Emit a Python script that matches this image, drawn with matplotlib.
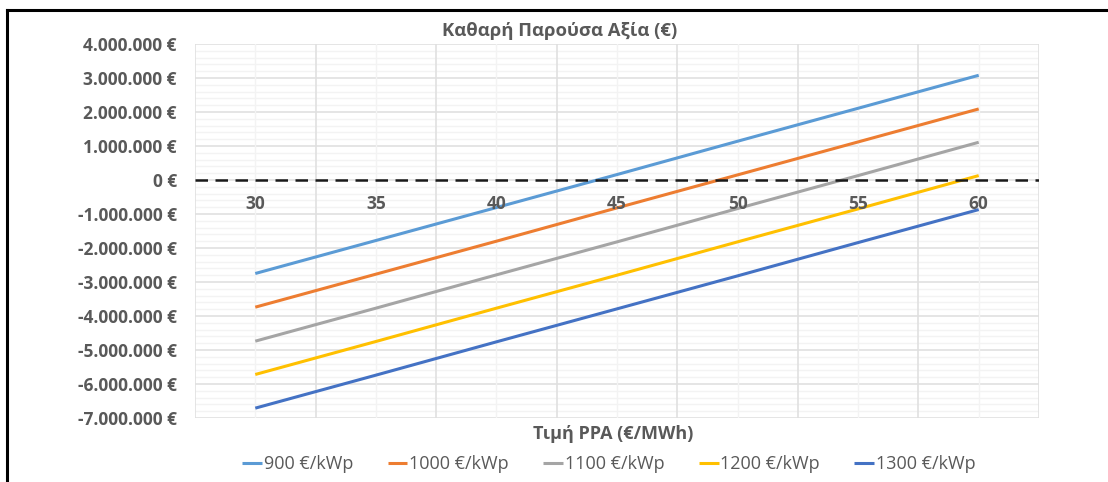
import matplotlib
matplotlib.use("Agg")
import matplotlib.pyplot as plt
from matplotlib.ticker import FuncFormatter, MultipleLocator
from matplotlib.lines import Line2D

plt.rcParams['font.family'] = ['Open Sans', 'DejaVu Sans']

# PPA price (€/MWh)
ppa_price = [30, 35, 40, 45, 50, 55, 60]

# NPV (€) per capex scenario
npv_900 = [-2750000, -1780000, -810000, 160000, 1140000, 2110000, 3080000]
npv_1000 = [-3740000, -2770000, -1800000, -820000, 150000, 1120000, 2090000]
npv_1100 = [-4740000, -3770000, -2790000, -1820000, -840000, 130000, 1110000]
npv_1200 = [-5720000, -4750000, -3770000, -2800000, -1820000, -850000, 130000]
npv_1300 = [-6710000, -5740000, -4760000, -3790000, -2820000, -1840000, -870000]

labels = ['900 €/kWp', '1000 €/kWp', '1100 €/kWp', '1200 €/kWp', '1300 €/kWp']
colors = ['#5B9BD5', '#ED7D31', '#A5A5A5', '#FFC000', '#4472C4']
series = [npv_900, npv_1000, npv_1100, npv_1200, npv_1300]

txt = '#595959'

fig = plt.figure(figsize=(11.08, 4.82), dpi=100)
ax = fig.add_axes([195 / 1108, 1 - 418 / 482, (1039 - 195) / 1108, (418 - 44) / 482])

# gridlines (excel style)
ax.set_xlim(27.5, 62.5)
ax.set_ylim(-7000000, 4000000)
ax.yaxis.set_major_locator(MultipleLocator(1000000))
for v in range(-7000000, 4000001, 200000):
    major = v % 1000000 == 0
    ax.axhline(v, color='#E0E0E0' if major else '#F3F3F3', lw=1.2 if major else 1.0, zorder=0)
for k in range(8):
    ax.axvline(27.5 + 5 * k, color='#E0E0E0', lw=1.2, zorder=0)
for p in ppa_price:
    ax.axvline(p, color='#F3F3F3', lw=1.0, zorder=0)

for s, lab, c in zip(series, labels, colors):
    ax.plot(ppa_price, s, color=c, lw=2.2, label=lab, solid_capstyle='butt', zorder=3)

ax.axhline(0, color='#1a1a1a', lw=1.8, ls=(0, (5, 3)), zorder=4)

for sp in ax.spines.values():
    sp.set_visible(False)

ax.set_xticks([])
ax.tick_params(axis='y', which='both', length=0, pad=13, labelsize=12.5, labelcolor=txt)

def euro(v, pos):
    s = f"{abs(int(round(v))):,}".replace(',', '.')
    return ('-' if v < 0 else '') + s + ' €'

ax.yaxis.set_major_formatter(FuncFormatter(euro))
for t in ax.get_yticklabels():
    t.set_fontweight('bold')

# x tick labels sit just below the zero line
for p in ppa_price:
    ax.annotate(str(p), (p, 0), xytext=(0, -24), textcoords='offset pixels',
                ha='center', va='center', fontsize=12.5, fontweight='bold', color=txt)

fig.text(560 / 1108, 1 - 31 / 482, 'Καθαρή Παρούσα Αξία (€)', ha='center', va='center',
         fontsize=13.3, fontweight='bold', color=txt)
fig.text(613 / 1108, 1 - 434 / 482, 'Τιμή PPA (€/MWh)', ha='center', va='center',
         fontsize=13, fontweight='bold', color=txt)

fig.legend(loc='center', bbox_to_anchor=(609 / 1108, 1 - 464 / 482), ncol=5, frameon=False,
           fontsize=13, handlelength=1.1, handletextpad=0.1, columnspacing=1.9,
           labelcolor=txt)

# outer frame (partly cut)
fig.add_artist(Line2D([7 / 1108, 7 / 1108], [0, 1 - 10 / 482], transform=fig.transFigure,
                      color='black', lw=2.2))
fig.add_artist(Line2D([7 / 1108, 1], [1 - 10 / 482, 1 - 10 / 482], transform=fig.transFigure,
                      color='black', lw=2.2))

fig.savefig('out.png', dpi=100)
